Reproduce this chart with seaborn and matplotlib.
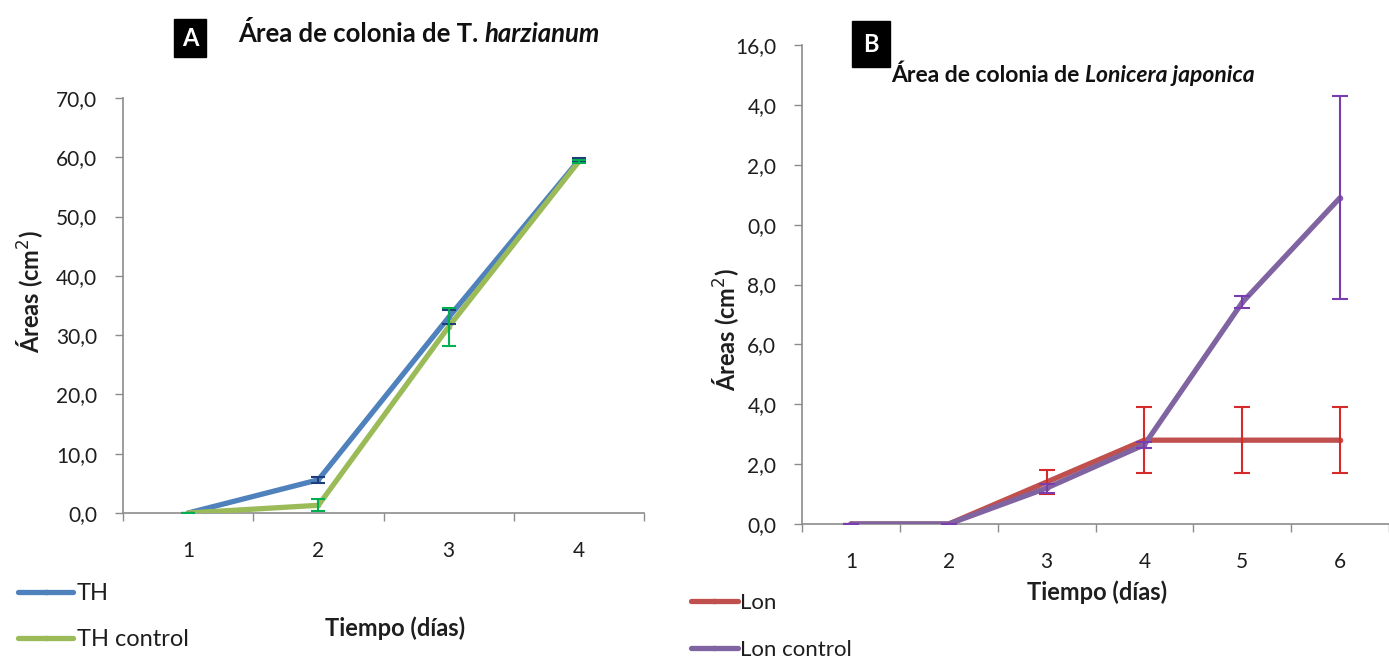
import numpy as np
import pandas as pd
import matplotlib
matplotlib.use("Agg")
import matplotlib.pyplot as plt
from matplotlib.ticker import FixedLocator
import seaborn as sns

# ---------------- data ----------------
days_a = [1, 2, 3, 4]
th = [0.0, 5.6, 33.0, 59.5]
th_err = [0.0, 0.5, 1.2, 0.3]
th_ctrl = [0.0, 1.3, 31.4, 59.3]
th_ctrl_err = [0.0, 1.0, 3.2, 0.3]
yticks_a = [0, 10, 20, 30, 40, 50, 60, 70]
yticklabels_a = ["0,0", "10,0", "20,0", "30,0", "40,0", "50,0", "60,0", "70,0"]

days_b = [1, 2, 3, 4, 5, 6]
lon = [0.0, 0.0, 1.4, 2.8, 2.8, 2.8]
lon_err = [0.0, 0.0, 0.4, 1.1, 1.1, 1.1]
lon_ctrl = [0.0, 0.0, 1.2, 2.65, 7.4, 10.9]
lon_ctrl_err = [0.0, 0.0, 0.15, 0.1, 0.2, 3.4]
yticks_b = [0, 2, 4, 6, 8, 10, 12, 14, 16]
yticklabels_b = ["0,0", "2,0", "4,0", "6,0", "8,0", "0,0", "2,0", "4,0", "16,0"]

sns.set_theme(style="white")
plt.rcParams["font.family"] = ["Lato", "DejaVu Sans"]

W, H = 1389, 662
fig = plt.figure(figsize=(W / 100, H / 100), dpi=100)

def fbox(l, t, r, b):
    return [l / W, 1 - b / H, (r - l) / W, (b - t) / H]

axA = fig.add_axes(fbox(123, 98, 644, 513))
axB = fig.add_axes(fbox(802, 45, 1389, 524))

dfA = pd.DataFrame({"day": days_a * 2, "val": th + th_ctrl,
                    "serie": ["TH"] * 4 + ["TH control"] * 4})
dfB = pd.DataFrame({"day": days_b * 2, "val": lon + lon_ctrl,
                    "serie": ["Lon"] * 6 + ["Lon control"] * 6})

palA = {"TH": "#4F81BD", "TH control": "#9BBB59"}
palB = {"Lon": "#C0504D", "Lon control": "#8064A2"}

sns.lineplot(data=dfA, x="day", y="val", hue="serie", palette=palA, ax=axA,
             linewidth=3.8, marker="o", markersize=4, markeredgewidth=0,
             legend=False, zorder=3)
sns.lineplot(data=dfB, x="day", y="val", hue="serie", palette=palB, ax=axB,
             linewidth=3.8, marker="o", markersize=4, markeredgewidth=0,
             legend=False, zorder=3)

axA.errorbar(days_a, th, yerr=th_err, fmt="none", ecolor="#1F3D7A", elinewidth=1.5,
             capsize=5, capthick=1.5, zorder=4)
axA.errorbar(days_a, th_ctrl, yerr=th_ctrl_err, fmt="none", ecolor="#00B050",
             elinewidth=1.5, capsize=5, capthick=1.5, zorder=4)
axB.errorbar(days_b, lon, yerr=lon_err, fmt="none", ecolor="#D42A2A", elinewidth=1.5,
             capsize=6, capthick=1.5, zorder=4)
axB.errorbar(days_b, lon_ctrl, yerr=lon_ctrl_err, fmt="none", ecolor="#7A3DB0",
             elinewidth=1.5, capsize=6, capthick=1.5, zorder=4)

spine_c = "#8C8C8C"
txt_c = "#1E1E1E"
TICK_FS = 15
for ax, days, yt, ytl in [(axA, days_a, yticks_a, yticklabels_a),
                          (axB, days_b, yticks_b, yticklabels_b)]:
    ax.set_xlim(0.5, len(days) + 0.5)
    ax.set_ylim(yt[0], yt[-1])
    ax.set_yticks(yt)
    ax.set_yticklabels(ytl, fontsize=TICK_FS, color=txt_c)
    ax.set_xticks(days)
    ax.set_xticklabels([str(d) for d in days], fontsize=TICK_FS, color=txt_c)
    ax.xaxis.set_minor_locator(FixedLocator(np.arange(0.5, len(days) + 1, 1.0)))
    ax.tick_params(axis="x", which="major", length=0, pad=20)
    ax.tick_params(axis="x", which="minor", length=6, width=1, color=spine_c,
                   direction="out", bottom=True)
    ax.tick_params(axis="y", which="major", length=5.5, width=1, color=spine_c,
                   direction="out", left=True, pad=13)
    for s in ["top", "right"]:
        ax.spines[s].set_visible(False)
    for s in ["left", "bottom"]:
        ax.spines[s].set_color(spine_c)
        ax.spines[s].set_linewidth(1.2)
    ax.set_xlabel("")
    ax.set_ylabel("")
    ax.patch.set_alpha(0)

LAB_FS = 17
# axis labels
fig.text(30 / W, 1 - 292 / H, "Áreas (cm$^2$)", rotation=90, ha="center", va="center",
         fontsize=LAB_FS, fontweight="bold", color=txt_c)
fig.text(726 / W, 1 - 330 / H, "Áreas (cm$^2$)", rotation=90, ha="center", va="center",
         fontsize=LAB_FS, fontweight="bold", color=txt_c)
fig.text(395 / W, 1 - 628 / H, "Tiempo (días)", ha="center", va="center",
         fontsize=LAB_FS, fontweight="bold", color=txt_c)
fig.text(1097 / W, 1 - 592 / H, "Tiempo (días)", ha="center", va="center",
         fontsize=LAB_FS, fontweight="bold", color=txt_c)

# titles with boxes
fig.text(190 / W, 1 - 38 / H, "A", ha="center", va="center", color="white",
         fontsize=17, fontweight="bold",
         bbox=dict(facecolor="black", edgecolor="black", boxstyle="square,pad=0.32"))
t1 = fig.text(238 / W, 1 - 33 / H, "Área de colonia de T. ", ha="left", va="center",
              fontsize=18.5, fontweight="bold", color="#111111")
axA.annotate("harzianum", xy=(1, 0), xycoords=t1, ha="left", va="bottom",
             fontsize=18.5, fontweight="bold", style="italic", color="#111111",
             annotation_clip=False)

fig.text(871 / W, 1 - 44 / H, "B", ha="center", va="center", color="white",
         fontsize=17, fontweight="bold",
         bbox=dict(facecolor="black", edgecolor="black", boxstyle="square,pad=0.48"))
t2 = fig.text(891 / W, 1 - 75 / H, "Área de colonia de ", ha="left", va="center",
              fontsize=16.5, fontweight="bold", color="#111111")
axB.annotate("Lonicera japonica", xy=(1, 0), xycoords=t2, ha="left", va="bottom",
             fontsize=16.5, fontweight="bold", style="italic", color="#111111",
             annotation_clip=False)

# legends
hA = [plt.Line2D([], [], color=palA[k], lw=3.8, marker="o", markersize=3) for k in palA]
axA.legend(hA, list(palA.keys()), loc="upper left", bbox_to_anchor=(18 / W, 1 - 583 / H),
           bbox_transform=fig.transFigure, frameon=False, fontsize=17,
           labelspacing=1.07, handlelength=2.35, handletextpad=0.15, borderaxespad=0,
           borderpad=0, labelcolor=txt_c)
hB = [plt.Line2D([], [], color=palB[k], lw=3.8, marker="o", markersize=3) for k in palB]
axB.legend(hB, list(palB.keys()), loc="upper left", bbox_to_anchor=(691 / W, 1 - 593 / H),
           bbox_transform=fig.transFigure, frameon=False, fontsize=16,
           labelspacing=1.2, handlelength=2.1, handletextpad=0.1, borderaxespad=0,
           borderpad=0, labelcolor=txt_c)

fig.savefig("out.png", dpi=100, facecolor="white")
